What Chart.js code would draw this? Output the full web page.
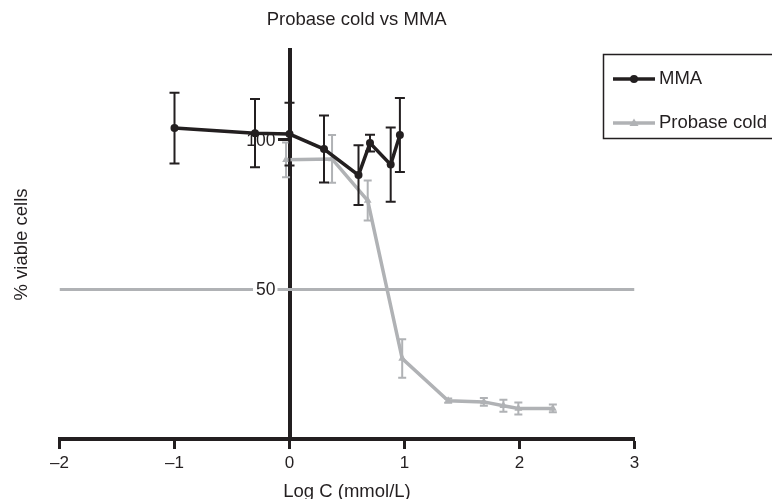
<!DOCTYPE html>
<html lang="en">
<head>
<meta charset="UTF-8">
<title>Probase cold vs MMA</title>
<script src="https://cdn.jsdelivr.net/npm/chart.js"></script>
<style>
  html, body { margin: 0; padding: 0; background: #fff; }
</style>
</head>
<body>
<canvas id="chart" width="772" height="499"></canvas>
<script>
  // MMA series (log concentration, % viable, +/- error)
  const mmaX = [-1, -0.3, 0, 0.3, 0.6, 0.7, 0.88, 0.96];
  const mmaY = [103.9, 102.2, 101.9, 96.9, 88.2, 98.9, 91.7, 101.6];
  const mmaErr = [11.8, 11.4, 10.5, 11.2, 10, 2.8, 12.4, 12.4];

  // Probase cold series
  const probX = [-0.03, 0.37, 0.68, 0.98, 1.38, 1.69, 1.86, 1.99, 2.29];
  const probY = [93.3, 93.6, 79.7, 26.9, 12.8, 12.4, 11.1, 10.2, 10.2];
  const probErr = [5.8, 8, 6.7, 6.4, 0.7, 1.3, 2, 2, 1.3];

  const refLevel = 50;
  const xTicks = [-2, -1, 0, 1, 2, 3];
  const yTicks = [50, 100];

  const black = '#231f20';
  const grey = '#b0b2b5';
  const fontFam = '"Liberation Sans", Arial, Helvetica, sans-serif';

  Chart.defaults.font.family = fontFam;
  Chart.defaults.color = black;

  function toPoints(xs, ys) {
    return xs.map((x, i) => ({ x: x, y: ys[i] }));
  }

  // draws error bars under each dataset's line
  const errorBars = {
    id: 'errorBars',
    beforeDatasetDraw(chart, args) {
      const ds = chart.data.datasets[args.index];
      if (!ds.errors) return;
      const ctx = chart.ctx;
      const xs = chart.scales.x, ys = chart.scales.y;
      const half = ds.capWidth / 2;
      ctx.save();
      ctx.strokeStyle = ds.borderColor;
      ctx.lineWidth = ds.errWidth;
      ds.data.forEach((p, i) => {
        const e = ds.errors[i];
        const px = xs.getPixelForValue(p.x);
        const top = ys.getPixelForValue(p.y + e);
        const bot = ys.getPixelForValue(p.y - e);
        ctx.beginPath();
        ctx.moveTo(px, top); ctx.lineTo(px, bot);
        ctx.moveTo(px - half, top); ctx.lineTo(px + half, top);
        ctx.moveTo(px - half, bot); ctx.lineTo(px + half, bot);
        ctx.stroke();
      });
      ctx.restore();
    }
  };

  // y tick labels sit left of the centred axis; drawn right after the
  // 50% reference line so the data lines still pass over them
  const yLabels = {
    id: 'yLabels',
    afterDatasetDraw(chart, args) {
      if (!chart.data.datasets[args.index].isRef) return;
      const ctx = chart.ctx;
      const ys = chart.scales.y;
      const ax = chart.scales.x.getPixelForValue(0);
      ctx.save();
      ctx.font = '17.5px ' + fontFam;
      ctx.textAlign = 'right';
      ctx.textBaseline = 'middle';
      ys.ticks.forEach(t => {
        const py = ys.getPixelForValue(t.value) + 1;
        const text = String(t.value);
        const w = ctx.measureText(text).width;
        const rx = ax - 14;
        ctx.fillStyle = '#ffffff';
        ctx.fillRect(rx - w - 3, py - 9, w + 5, 18);
        ctx.fillStyle = black;
        ctx.fillText(text, rx, py);
      });
      ctx.restore();
    }
  };

  // boxed legend in the top right corner
  const boxLegend = {
    id: 'boxLegend',
    afterDraw(chart) {
      const ctx = chart.ctx;
      const items = chart.data.datasets.filter(d => d.label);
      ctx.save();
      ctx.strokeStyle = black;
      ctx.lineWidth = 1.5;
      ctx.strokeRect(603.5, 54.5, 200, 84);
      items.forEach((d, i) => {
        const yy = 79 + i * 44;
        ctx.strokeStyle = d.borderColor;
        ctx.lineWidth = d.borderWidth;
        ctx.beginPath();
        ctx.moveTo(613, yy); ctx.lineTo(655, yy);
        ctx.stroke();
        ctx.fillStyle = d.borderColor;
        ctx.beginPath();
        if (d.pointStyle === 'triangle') {
          ctx.moveTo(634, yy - 4.5); ctx.lineTo(638.5, yy + 3); ctx.lineTo(629.5, yy + 3);
          ctx.closePath();
        } else {
          ctx.arc(634, yy, 4, 0, Math.PI * 2);
        }
        ctx.fill();
        ctx.fillStyle = black;
        ctx.font = '18.5px ' + fontFam;
        ctx.textBaseline = 'middle';
        ctx.fillText(d.label, 659, yy);
      });
      ctx.restore();
    }
  };

  const ctx = document.getElementById('chart').getContext('2d');

  new Chart(ctx, {
    type: 'scatter',
    data: {
      datasets: [
        {
          label: 'MMA',
          data: toPoints(mmaX, mmaY),
          errors: mmaErr,
          showLine: true,
          borderColor: black,
          backgroundColor: black,
          borderWidth: 3.5,
          pointStyle: 'circle',
          pointRadius: 4,
          pointBorderWidth: 0,
          capWidth: 10,
          errWidth: 2
        },
        {
          label: 'Probase cold',
          data: toPoints(probX, probY),
          errors: probErr,
          showLine: true,
          borderColor: grey,
          backgroundColor: grey,
          borderWidth: 3.5,
          pointStyle: 'triangle',
          pointRadius: 4.5,
          pointBorderWidth: 0,
          capWidth: 8,
          errWidth: 2
        },
        {
          label: '',
          isRef: true,
          data: [{ x: xTicks[0], y: refLevel }, { x: xTicks[xTicks.length - 1], y: refLevel }],
          showLine: true,
          borderColor: grey,
          borderWidth: 3,
          pointRadius: 0
        }
      ]
    },
    options: {
      responsive: false,
      animation: false,
      devicePixelRatio: 1,
      layout: { padding: { left: 0, right: 58.6, top: 0, bottom: 60 } },
      plugins: {
        legend: { display: false },
        tooltip: { enabled: false },
        title: {
          display: true,
          text: 'Probase cold vs MMA',
          color: black,
          font: { size: 18.5, weight: 'normal' },
          padding: { top: 9, bottom: 18.8 }
        }
      },
      scales: {
        x: {
          type: 'linear',
          position: { y: 0 },
          min: -2,
          max: 3,
          z: 1,
          afterBuildTicks: s => { s.ticks = xTicks.map(v => ({ value: v })); },
          ticks: {
            color: black,
            font: { size: 17 },
            padding: 6,
            callback: v => String(v).replace('-', '\u2013')
          },
          grid: { drawOnChartArea: false, tickLength: 8, tickWidth: 3, tickColor: black },
          border: { color: black, width: 4 },
          title: {
            display: true,
            text: 'Log C (mmol/L)',
            color: black,
            font: { size: 18.5 },
            padding: { top: 1, bottom: 0 }
          }
        },
        y: {
          type: 'linear',
          position: { x: 0 },
          min: 0,
          max: 130,
          z: 1,
          afterBuildTicks: s => { s.ticks = yTicks.map(v => ({ value: v })); },
          ticks: { display: false },
          grid: { drawOnChartArea: false, tickLength: 10, tickWidth: 3, tickColor: black },
          border: { color: black, width: 4 }
        },
        yTitle: {
          type: 'linear',
          position: 'left',
          afterFit: s => { s.width = 59.5; },
          grid: { display: false, drawTicks: false },
          ticks: { display: false },
          border: { display: false },
          title: {
            display: true,
            text: '% viable cells',
            color: black,
            font: { size: 18.5 },
            padding: { top: 10.4, bottom: 0 }
          }
        },
        yRight: {
          type: 'linear',
          position: 'right',
          afterFit: s => { s.width = 78.9; },
          grid: { display: false, drawTicks: false },
          ticks: { display: false },
          border: { display: false }
        }
      }
    },
    plugins: [errorBars, yLabels, boxLegend]
  });
</script>
</body>
</html>
